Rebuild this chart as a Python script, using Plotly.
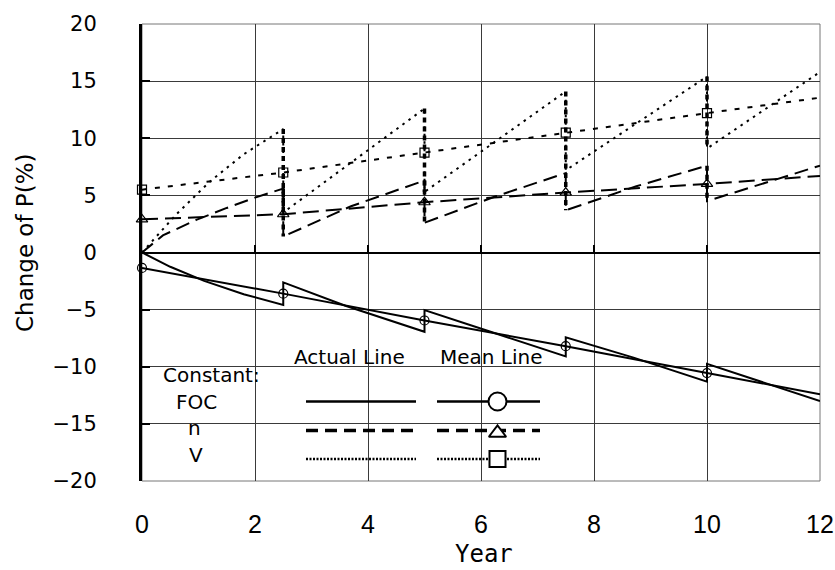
import plotly.graph_objects as go

# ---------------- data ----------------
foc_act_x = [0, 0.5, 1.1, 1.8, 2.5, 2.5, 3.6, 5, 5, 6.1, 7.5, 7.5, 8.7, 10, 10, 12]
foc_act_y = [0, -1.25, -2.48, -3.65, -4.6, -2.62, -4.66, -6.94, -5.04, -6.85, -9.1, -7.43, -9.2, -11.3, -9.75, -13.0]

n_act_x = [0, 0.37, 0.96, 1.5, 2.0, 2.5, 2.5, 3.7, 5, 5, 6.25, 7.5, 7.5, 8.75, 10, 10, 12]
n_act_y = [0, 1.5, 2.85, 3.9, 4.8, 5.6, 1.4, 4.05, 6.3, 2.6, 4.9, 6.95, 3.7, 5.8, 7.6, 4.5, 7.6]

v_act_x = [0, 0.6, 1.2, 1.8, 2.5, 2.5, 5, 5, 7.5, 7.5, 10, 10, 12]
v_act_y = [0, 3.3, 6.2, 8.6, 10.8, 3.5, 12.6, 5.3, 14.1, 7.2, 15.4, 9.1, 15.8]

mean_x = [0, 2.5, 5, 7.5, 10, 12]
foc_mean = [-1.35, -3.6, -5.95, -8.2, -10.55, -12.4]
n_mean = [2.9, 3.35, 4.4, 5.25, 6.0, 6.7]
v_mean = [5.5, 7.0, 8.75, 10.5, 12.2, 13.55]

x_ticks = [0, 2, 4, 6, 8, 10, 12]
y_ticks = [20, 15, 10, 5, 0, -5, -10, -15, -20]

W, H = 835, 570
ML, MR, MT, MB = 142, 15, 24, 89
PW, PH = W - ML - MR, H - MT - MB


def fx(px):
    return (px - ML) / PW


def fy(py):
    return (H - MB - py) / PH


def drops(xs, ys):
    ox, oy = [], []
    for i in range(1, len(xs)):
        if xs[i] == xs[i - 1]:
            ox += [xs[i - 1], xs[i], None]
            oy += [ys[i - 1], ys[i], None]
    return ox, oy


fig = go.Figure()
BLK = "black"

# actual lines
fig.add_trace(go.Scatter(x=foc_act_x, y=foc_act_y, mode="lines",
                         line=dict(color=BLK, width=2)))
fig.add_trace(go.Scatter(x=n_act_x, y=n_act_y, mode="lines",
                         line=dict(color=BLK, width=2, dash="14px,7px")))
fig.add_trace(go.Scatter(x=v_act_x, y=v_act_y, mode="lines",
                         line=dict(color=BLK, width=2, dash="2.5px,5px")))
# heavy vertical drops
for xs, ys in [(v_act_x, v_act_y), (n_act_x, n_act_y)]:
    dx, dy = drops(xs, ys)
    fig.add_trace(go.Scatter(x=dx, y=dy, mode="lines",
                             line=dict(color=BLK, width=3.5, dash="5px,4px")))

# mean lines
fig.add_trace(go.Scatter(x=mean_x, y=foc_mean, mode="lines",
                         line=dict(color=BLK, width=2)))
fig.add_trace(go.Scatter(x=mean_x, y=n_mean, mode="lines",
                         line=dict(color=BLK, width=2, dash="16px,7px")))
fig.add_trace(go.Scatter(x=mean_x, y=v_mean, mode="lines",
                         line=dict(color=BLK, width=2, dash="5px,8px")))

mk_x = [x for x in mean_x if x <= 10]
for vals, sym, sz in [(foc_mean, "circle-open", 9), (n_mean, "triangle-up-open", 10),
                      (v_mean, "square-open", 9)]:
    fig.add_trace(go.Scatter(x=mk_x, y=vals[:len(mk_x)], mode="markers", cliponaxis=False,
                             marker=dict(symbol=sym, size=sz, color=BLK,
                                         line=dict(color=BLK, width=1.2))))

# dummy trace for the tick axis drawn on the zero line
fig.add_trace(go.Scatter(x=[0], y=[0], xaxis="x2", mode="markers",
                         marker=dict(opacity=0), hoverinfo="skip"))

# ---------------- legend (drawn on an overlay 0..1 axis) ----------------
leg = dict(xaxis="x3", yaxis="y3", hoverinfo="skip", cliponaxis=False)
lx_a = [fx(306), fx(416)]
lx_m = [fx(437), fx(540)]
rows = [
    (401.5, dict(color=BLK, width=2.5), dict(symbol="circle", size=18, color="white",
                                            line=dict(color=BLK, width=2))),
    (430.5, dict(color=BLK, width=3.5, dash="12px,7px"), dict(symbol="triangle-up", size=15,
                                                          color="white", line=dict(color=BLK, width=2))),
    (459, dict(color=BLK, width=2.5, dash="2px,1.5px"), dict(symbol="square", size=16, color="white",
                                                           line=dict(color=BLK, width=2))),
]
for py, lst, mk in rows:
    fig.add_trace(go.Scatter(x=lx_a, y=[fy(py)] * 2, mode="lines", line=lst, **leg))
    fig.add_trace(go.Scatter(x=lx_m, y=[fy(py)] * 2, mode="lines", line=lst, **leg))
    myy = fy(py + 2.5) if mk["symbol"] == "triangle-up" else fy(py)
    fig.add_trace(go.Scatter(x=[fx(497.5)], y=[myy], mode="markers", marker=mk, **leg))

LF = dict(family="DejaVu Sans", size=20, color=BLK)
anns = [
    ("Actual Line", 349, 357),
    ("Mean Line", 492, 357),
    ("Constant:", 211, 375),
    ("FOC", 196, 402),
    ("n", 194, 428),
    ("V", 196, 455),
]
annotations = [dict(text=t, x=fx(px), y=fy(py), xref="paper", yref="paper", showarrow=False,
                    xanchor="center", yanchor="middle", font=LF) for t, px, py in anns]
annotations.append(dict(text="Change of P(%)", x=fx(25), y=fy(243), xref="paper", yref="paper",
                        showarrow=False, textangle=-90, xanchor="center", yanchor="middle",
                        font=dict(family="DejaVu Sans", size=23, color=BLK)))
annotations.append(dict(text="Year", x=fx(484), y=fy(554), xref="paper", yref="paper",
                        showarrow=False, xanchor="center", yanchor="middle",
                        font=dict(family="DejaVu Sans Mono", size=24, color=BLK)))

GRID = "#3a3a3a"
shapes = [
    dict(type="rect", xref="paper", yref="paper", x0=0, x1=1, y0=0, y1=1,
         line=dict(color="#777777", width=1), layer="below"),
    dict(type="rect", xref="paper", yref="paper", x0=fx(151), x1=fx(307),
         y0=fy(473), y1=fy(358), fillcolor="white", line=dict(width=0), layer="between"),
]

fig.update_layout(
    width=W, height=H, margin=dict(l=ML, r=MR, t=MT, b=MB, autoexpand=False),
    paper_bgcolor="white", plot_bgcolor="white", showlegend=False,
    annotations=annotations, shapes=shapes,
    xaxis=dict(range=[0, 12], tickvals=x_ticks, ticktext=[str(v) for v in x_ticks],
               showgrid=True, gridcolor=GRID, gridwidth=1, zeroline=False, showline=False,
               ticks="", ticklabelstandoff=26, ticklabeloverflow="allow", automargin=False,
               tickfont=dict(family="Liberation Sans", size=25, color=BLK)),
    xaxis2=dict(range=[0, 12], overlaying="x", anchor="free", position=0.5, side="bottom",
                tickvals=x_ticks, ticks="inside", ticklen=8, tickwidth=2, tickcolor=BLK,
                showticklabels=False, showgrid=False, zeroline=False, showline=False),
    yaxis=dict(range=[-20, 20], tickvals=y_ticks, showgrid=True, gridcolor=GRID, gridwidth=1,
               zeroline=True, zerolinecolor=BLK, zerolinewidth=2, automargin=False,
               showline=True, linecolor=BLK, linewidth=3, ticks="inside", ticklen=8,
               tickwidth=2, tickcolor=BLK, ticklabelstandoff=38,
               tickfont=dict(family="DejaVu Sans", size=21, color=BLK)),
    xaxis3=dict(range=[0, 1], overlaying="x", anchor="y3", visible=False, fixedrange=True),
    yaxis3=dict(range=[0, 1], overlaying="y", anchor="x3", visible=False, fixedrange=True),
)

fig.write_html("out.html")
